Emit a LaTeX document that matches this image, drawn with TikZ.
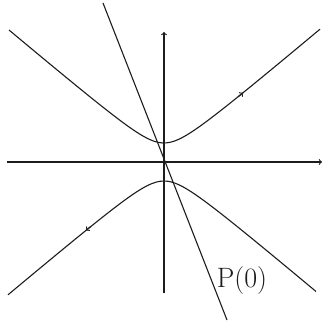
\documentclass[tikz,border=0pt]{standalone}
\usepackage{tikz}
\definecolor{inkblack}{HTML}{1C1C1C}
\newcommand{\curvetext}{\fontsize{28}{32}\selectfont}

\begin{document}
\begin{tikzpicture}[x=10pt,y=10pt,font=\curvetext]
\useasboundingbox (-16.4,-16.1) rectangle (15.9,16.2);
\draw[->,line width=1.1pt,color=inkblack] (-15.7,0) -- (15.8,0);
\draw[->,line width=1.1pt,color=inkblack] (0,-13.1) -- (0,13.0);

\draw[line width=1.1pt,color=inkblack] plot[domain=-15.5:15.6,samples=80] (\x,{sqrt(3.61+0.71*\x*\x)});
\draw[line width=1.1pt,color=inkblack] plot[domain=-15.6:15.2,samples=80] (\x,{-sqrt(3.61+0.71*\x*\x)});
\draw[->,line width=1.1pt,color=inkblack] (7.4,6.515) -- (7.9,6.92);
\draw[->,line width=1.1pt,color=inkblack] (-7.3,-6.435) -- (-7.8,-6.84);

\draw[line width=1.1pt,color=inkblack] (-6.1,15.9) -- (6.3,-15.8);
\node[color=inkblack] (plabel) at (7.8,-11.9) {P(0)};
\end{tikzpicture}
\end{document}
